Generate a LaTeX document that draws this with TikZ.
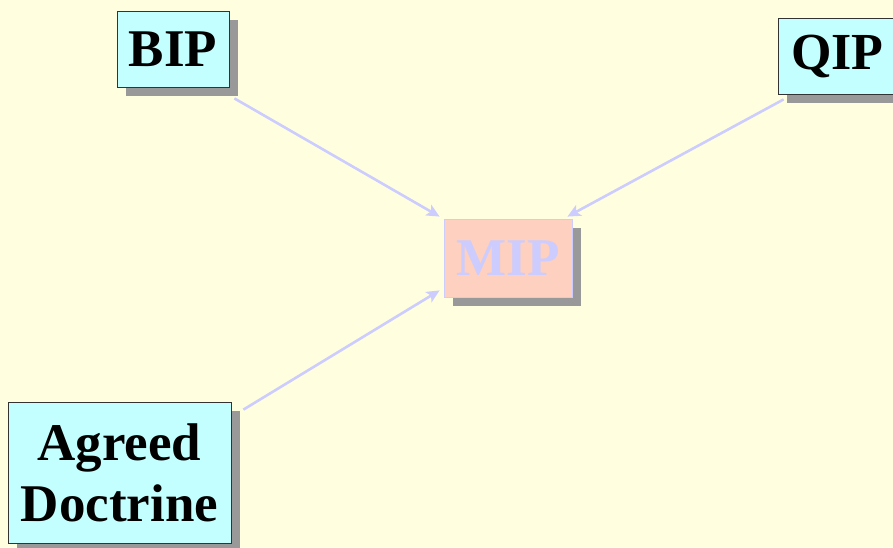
\documentclass[tikz,border=0pt]{standalone}
\usepackage{fontspec}
\setmainfont{Liberation Serif}
\usetikzlibrary{arrows.meta,shadows}
\definecolor{bg}{HTML}{FFFFE0}
\definecolor{boxfill}{HTML}{C4FFFF}
\definecolor{shadowgray}{HTML}{999999}
\definecolor{mipfill}{HTML}{FDD0C0}
\definecolor{lav}{HTML}{CCCCFF}
\begin{document}
\begin{tikzpicture}[x=1pt,y=-1pt,
  box/.style={draw=black!80, line width=0.8pt, fill=boxfill, inner sep=0pt, align=center,
    font=\bfseries, text=black,
    drop shadow={shadow xshift=9pt, shadow yshift=-9pt, fill=shadowgray, opacity=1}},
  conn/.style={draw=lav, line width=2.6pt, -{Stealth[length=13pt,width=12pt,inset=3pt]}}]
\useasboundingbox (0,0) rectangle (893,547);
\clip (0,0) rectangle (893,547);
\fill[bg] (0,0) rectangle (893,547);
\node[box, minimum width=112pt, minimum height=76pt, font=\fontsize{53}{60}\bfseries] (bip) at (173,49) {BIP};
\node[box, minimum width=119pt, minimum height=76pt, font=\fontsize{52}{60}\bfseries] (qip) at (837.5,56) {QIP};
\node[box, draw=lav, fill=mipfill, text=lav, minimum width=128pt, minimum height=78pt, font=\fontsize{53}{60}\bfseries] (mip) at (508,258) {MIP};
\node[box, minimum width=223pt, minimum height=141pt, font=\fontsize{53}{61}\selectfont\bfseries] (ad) at (119.5,472.5) {Agreed\\Doctrine};
\draw[conn] ([shift={(5,11)}]bip.south east) -- ([shift={(-4,-2)}]mip.north west);
\draw[conn] ([shift={(6,5)}]qip.south west) -- ([shift={(-5,-2)}]mip.north east);
\draw[conn] ([shift={(12,8)}]ad.north east) -- ([shift={(-4,-7)}]mip.south west);
\end{tikzpicture}
\end{document}
